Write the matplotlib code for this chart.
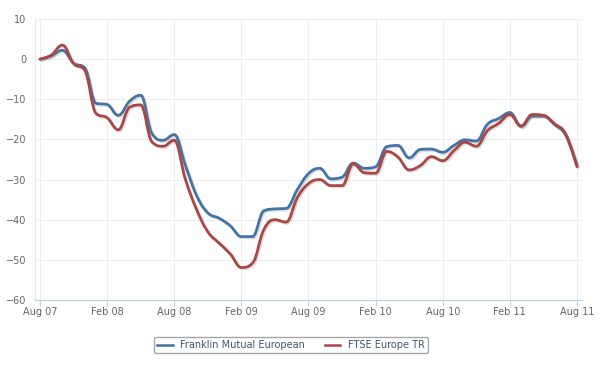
import matplotlib
matplotlib.use("Agg")
import matplotlib.pyplot as plt
import matplotlib.patheffects as pe
from matplotlib.path import Path
from matplotlib.patches import PathPatch
from matplotlib.lines import Line2D
import numpy as np

# months since Aug 07
months = np.arange(49)
tick_pos = [0, 6, 12, 18, 24, 30, 36, 42, 48]
tick_labels = ['Aug 07', 'Feb 08', 'Aug 08', 'Feb 09', 'Aug 09', 'Feb 10', 'Aug 10', 'Feb 11', 'Aug 11']

franklin = [0, 0.8, 2.2, -1.0, -2.2, -11.0, -11.3, -14.0, -10.5, -9.0,
            -18.5, -20.2, -18.8, -26.5, -34.0, -38.3, -39.6, -41.5, -44.2, -44.2,
            -37.8, -37.3, -37.2, -32.5, -28.5, -27.2, -29.8, -29.4, -25.9, -27.2,
            -26.8, -21.8, -21.5, -24.6, -22.5, -22.4, -23.2, -21.5, -20.1, -20.4,
            -16.2, -14.8, -13.3, -16.7, -14.2, -14.2, -16.3, -19.0, -26.5]
ftse = [0, 1.0, 3.5, -1.1, -2.8, -13.5, -14.6, -17.6, -12.0, -11.4,
        -20.6, -21.7, -20.2, -30.0, -37.5, -43.0, -45.8, -48.5, -51.9, -50.8,
        -42.5, -40.0, -40.6, -34.5, -31.0, -30.0, -31.5, -31.5, -26.1, -28.3,
        -28.4, -23.0, -24.4, -27.6, -26.5, -24.3, -25.3, -22.8, -20.7, -21.7,
        -17.8, -16.0, -13.8, -16.7, -13.8, -14.0, -16.1, -18.7, -26.8]


def spline_path(xs, ys, smoothing=1.5):
    # bezier control points the way a spline series is drawn
    xs = list(map(float, xs)); ys = list(map(float, ys))
    n = len(xs)
    lc = [None] * n
    rc = [None] * n
    for i in range(n):
        x, y = xs[i], ys[i]
        if i == 0 or i == n - 1:
            lc[i] = (x, y); rc[i] = (x, y)
            continue
        lx, ly = xs[i-1], ys[i-1]
        nx, ny = xs[i+1], ys[i+1]
        d = smoothing + 1
        lcx = (smoothing * x + lx) / d
        lcy = (smoothing * y + ly) / d
        rcx = (smoothing * x + nx) / d
        rcy = (smoothing * y + ny) / d
        corr = ((rcy - lcy) * (rcx - x)) / (rcx - lcx) + y - rcy
        lcy += corr; rcy += corr
        if lcy > ly and lcy > y:
            lcy = max(ly, y); rcy = 2 * y - lcy
        elif lcy < ly and lcy < y:
            lcy = min(ly, y); rcy = 2 * y - lcy
        if rcy > ny and rcy > y:
            rcy = max(ny, y); lcy = 2 * y - rcy
        elif rcy < ny and rcy < y:
            rcy = min(ny, y); lcy = 2 * y - rcy
        lc[i] = (lcx, lcy); rc[i] = (rcx, rcy)
    verts = [(xs[0], ys[0])]
    codes = [Path.MOVETO]
    for i in range(1, n):
        verts += [rc[i-1], lc[i], (xs[i], ys[i])]
        codes += [Path.CURVE4] * 3
    return Path(verts, codes)


fig = plt.figure(figsize=(6, 3.65), dpi=100)
ax = fig.add_axes([35/600, 1-300/365, (582-35)/600, (300-19)/365])

shadow = [pe.SimpleLineShadow(offset=(1, -1), alpha=0.25, shadow_color='gray'), pe.Normal()]
series = [(franklin, '#4572A7', 'Franklin Mutual European'),
          (ftse, '#AA4643', 'FTSE Europe TR')]
handles = []
for vals, col, name in series:
    patch = PathPatch(spline_path(months, vals), facecolor='none', edgecolor=col,
                      lw=2.0, capstyle='round', joinstyle='round', path_effects=shadow)
    ax.add_patch(patch)
    handles.append(Line2D([], [], color=col, lw=1.8, label=name))

ax.set_xlim(-0.45, 48.45)
ax.set_ylim(-60, 10)
ax.set_yticks(range(-60, 11, 10))
ax.set_xticks(tick_pos)
ax.set_xticklabels(tick_labels)
ax.grid(True, color='#eeeeee', lw=0.8)
ax.set_axisbelow(True)

for s in ['top', 'right']:
    ax.spines[s].set_visible(False)
ax.spines['left'].set_color('#e4e8ec')
ax.spines['bottom'].set_color('#C0D0E0')
ax.tick_params(axis='y', length=0, pad=6, labelsize=7, labelcolor='#666666')
ax.tick_params(axis='x', length=4, color='#C0D0E0', pad=1, labelsize=7, labelcolor='#666666')

fig.legend(handles=handles, loc='center', bbox_to_anchor=(291/600, 1-345/365), ncol=2,
           fontsize=7, frameon=True, fancybox=True, edgecolor='#909090', handlelength=1.6,
           columnspacing=2.0, borderpad=0.35, labelcolor='#3E576F')

fig.savefig('out.png', dpi=100)
